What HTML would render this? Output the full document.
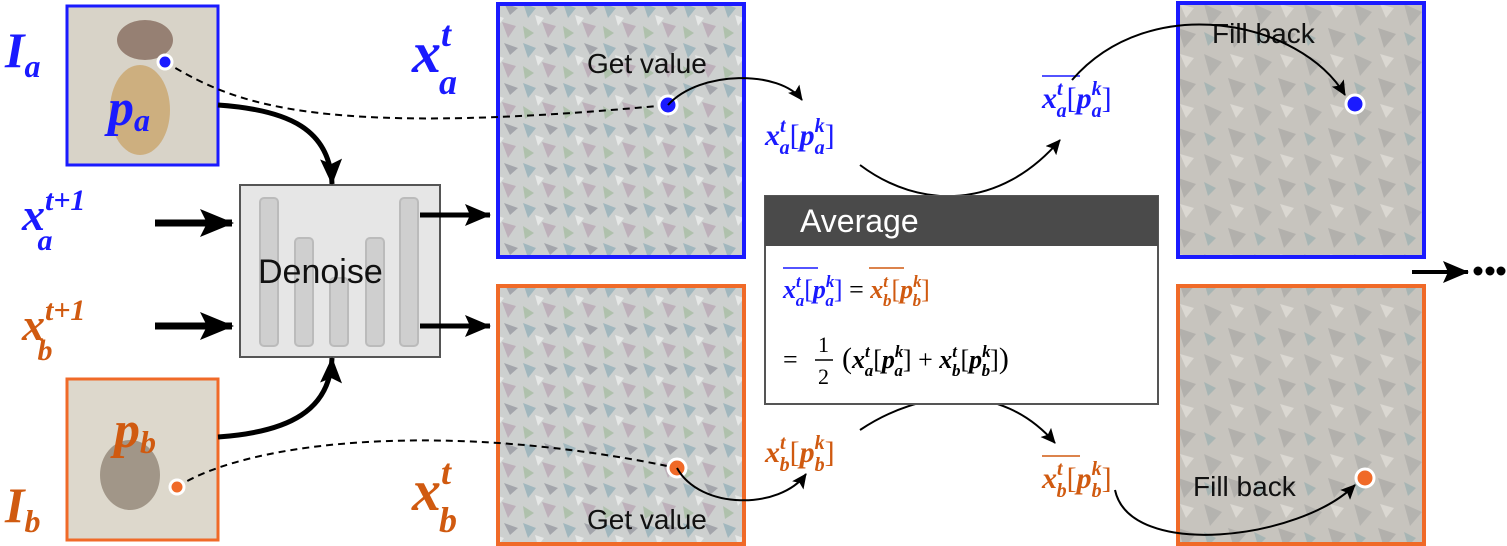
<!DOCTYPE html>
<html><head><meta charset="utf-8"><style>
body{margin:0;background:#fff;}
svg{display:block;font-family:"Liberation Sans",sans-serif;}
.m{font-family:"Liberation Serif",serif;font-style:italic;font-weight:bold;}
.r{font-family:"Liberation Serif",serif;font-style:normal;font-weight:normal;}
</style></head><body>
<svg width="1507" height="546" viewBox="0 0 1507 546">
<defs>
<marker id="ah" markerUnits="userSpaceOnUse" markerWidth="36" markerHeight="32" refX="32" refY="16" orient="auto"><path d="M0,2 L34,16 L0,30 L7,16 Z" fill="#000"/></marker>
<marker id="ahm" markerUnits="userSpaceOnUse" markerWidth="28" markerHeight="24" refX="25" refY="12" orient="auto"><path d="M0,1 L26,12 L0,23 L5,12 Z" fill="#000"/></marker>
<marker id="ahb" markerUnits="userSpaceOnUse" markerWidth="16" markerHeight="14" refX="14" refY="7" orient="auto"><path d="M0,0 L15,7 L0,14 L3,7 Z" fill="#000"/></marker>
<pattern id="noise" width="40" height="40" patternUnits="userSpaceOnUse">
<rect width="40" height="40" fill="#cdd0cf"/>
<path d="M3,3 L16,8 L8,18Z" fill="#6a9aa8" opacity=".45"/><path d="M22,22 L36,26 L28,38Z" fill="#a88aa0" opacity=".45"/>
<path d="M24,3 L38,8 L30,15Z" fill="#556" opacity=".35"/><path d="M3,26 L14,33 L5,39Z" fill="#8ab080" opacity=".45"/>
<path d="M15,15 L24,18 L18,26Z" fill="#fff" opacity=".5"/>
</pattern>
<pattern id="noise2" width="50" height="50" patternUnits="userSpaceOnUse">
<rect width="50" height="50" fill="#c7c4be"/>
<path d="M4,4 L22,12 L10,26Z" fill="#999" opacity=".4"/><path d="M28,28 L46,34 L34,48Z" fill="#8a8a88" opacity=".35"/>
<path d="M30,4 L44,8 L36,18Z" fill="#e8e6e0" opacity=".6"/><path d="M4,32 L16,38 L8,46Z" fill="#6a98a0" opacity=".35"/>
</pattern>
</defs>
<!-- input images -->
<rect x="67" y="6" width="151" height="159" fill="#d8d3c8" stroke="#1a1aff" stroke-width="3"/>
<ellipse cx="140" cy="110" rx="30" ry="45" fill="#c9a060" opacity=".7"/>
<ellipse cx="145" cy="40" rx="28" ry="20" fill="#6a4a3a" opacity=".6"/>
<rect x="67" y="379" width="151" height="161" fill="#ddd8cc" stroke="#f06a28" stroke-width="3"/>
<ellipse cx="130" cy="475" rx="30" ry="35" fill="#7a6a5a" opacity=".6"/>
<text x="5" y="67" class="m" font-size="50" fill="#1a1aff">I<tspan font-size="32" dy="10">a</tspan></text>
<text x="5" y="522" class="m" font-size="50" fill="#d05a10">I<tspan font-size="32" dy="10">b</tspan></text>
<text x="108" y="125" class="m" font-size="52" fill="#1a1aff">p<tspan font-size="32" dy="6">a</tspan></text>
<text x="114" y="447" class="m" font-size="52" fill="#d05a10">p<tspan font-size="32" dy="6">b</tspan></text>
<!-- x^{t+1} -->
<text x="22" y="230" class="m" font-size="46" fill="#1a1aff">x<tspan font-size="30" dy="-20">t+1</tspan><tspan font-size="30" dx="-48" dy="40">a</tspan></text>
<text x="22" y="340" class="m" font-size="46" fill="#d05a10">x<tspan font-size="30" dy="-20">t+1</tspan><tspan font-size="30" dx="-48" dy="40">b</tspan></text>
<line x1="155" y1="223" x2="232" y2="223" stroke="#000" stroke-width="7" marker-end="url(#ah)"/>
<line x1="155" y1="326" x2="232" y2="326" stroke="#000" stroke-width="7" marker-end="url(#ah)"/>
<!-- denoise -->
<rect x="240" y="185" width="200" height="172" fill="#e6e6e6" stroke="#555" stroke-width="2"/>
<g fill="#cfcfcf" stroke="#bbb" stroke-width="2">
<rect x="260" y="198" width="18" height="148" rx="4"/><rect x="295" y="238" width="18" height="108" rx="4"/>
<rect x="330" y="278" width="18" height="68" rx="4"/><rect x="366" y="238" width="18" height="108" rx="4"/>
<rect x="400" y="198" width="18" height="148" rx="4"/></g>
<text x="258" y="283" font-size="34" fill="#111">Denoise</text>
<path d="M218,105 C290,110 330,130 332,184" fill="none" stroke="#000" stroke-width="5" marker-end="url(#ahm)"/>
<path d="M218,437 C290,432 330,410 332,358" fill="none" stroke="#000" stroke-width="5" marker-end="url(#ahm)"/>
<line x1="420" y1="215" x2="490" y2="215" stroke="#000" stroke-width="5" marker-end="url(#ahm)"/>
<line x1="420" y1="326" x2="490" y2="326" stroke="#000" stroke-width="5" marker-end="url(#ahm)"/>
<!-- noisy latents -->
<rect x="498" y="4" width="246" height="253" fill="url(#noise)" stroke="#1a1aff" stroke-width="4"/>
<rect x="498" y="286" width="246" height="258" fill="url(#noise)" stroke="#f06a28" stroke-width="4"/>
<text x="412" y="72" class="m" font-size="58" fill="#1a1aff">x<tspan font-size="36" dy="-26">t</tspan><tspan font-size="36" dx="-12" dy="48">a</tspan></text>
<text x="412" y="510" class="m" font-size="58" fill="#d05a10">x<tspan font-size="36" dy="-26">t</tspan><tspan font-size="36" dx="-12" dy="48">b</tspan></text>
<text x="587" y="73" font-size="28" fill="#111">Get value</text>
<text x="587" y="529" font-size="28" fill="#111">Get value</text>
<path d="M165,62 C230,100 300,140 668,105" fill="none" stroke="#000" stroke-width="2" stroke-dasharray="7,5"/>
<path d="M177,487 C250,440 450,420 677,468" fill="none" stroke="#000" stroke-width="2" stroke-dasharray="7,5"/>
<circle cx="165" cy="62" r="7" fill="#1a1aff" stroke="#fff" stroke-width="3"/>
<circle cx="177" cy="487" r="7" fill="#f06a28" stroke="#fff" stroke-width="3"/>
<circle cx="668" cy="105" r="9" fill="#1a1aff" stroke="#fff" stroke-width="3"/>
<circle cx="677" cy="468" r="9" fill="#f06a28" stroke="#fff" stroke-width="3"/>
<path d="M668,105 C700,70 780,70 802,100" fill="none" stroke="#000" stroke-width="2" marker-end="url(#ahb)"/>
<path d="M677,468 C700,510 780,510 806,474" fill="none" stroke="#000" stroke-width="2" marker-end="url(#ahb)"/>
<text x="765" y="145" class="m" font-size="30" fill="#1a1aff">x<tspan font-size="20" dy="-13">t</tspan><tspan font-size="20" dx="-6" dy="22">a</tspan><tspan class="r" dy="-9">[</tspan>p<tspan font-size="20" dy="-13">k</tspan><tspan font-size="20" dx="-10" dy="22">a</tspan><tspan class="r" dy="-9">]</tspan></text>
<text x="765" y="462" class="m" font-size="30" fill="#d05a10">x<tspan font-size="20" dy="-13">t</tspan><tspan font-size="20" dx="-6" dy="22">b</tspan><tspan class="r" dy="-9">[</tspan>p<tspan font-size="20" dy="-13">k</tspan><tspan font-size="20" dx="-10" dy="22">b</tspan><tspan class="r" dy="-9">]</tspan></text>
<path d="M860,165 C920,210 1000,210 1060,140" fill="none" stroke="#000" stroke-width="2" marker-end="url(#ahb)"/>
<path d="M860,430 C920,390 1000,380 1055,443" fill="none" stroke="#000" stroke-width="2" marker-end="url(#ahb)"/>
<!-- average -->
<rect x="765" y="196" width="393" height="208" fill="#fff" stroke="#555" stroke-width="2"/>
<rect x="765" y="196" width="393" height="50" fill="#4a4a4a"/>
<text x="800" y="232" font-size="32" fill="#fff">Average</text>
<g>
<line x1="783" y1="268" x2="818" y2="268" stroke="#1a1aff" stroke-width="1.5"/>
<line x1="869" y1="268" x2="904" y2="268" stroke="#d05a10" stroke-width="1.5"/>
<text x="783" y="298" class="m" font-size="26" fill="#1a1aff">x<tspan font-size="17" dy="-11">t</tspan><tspan font-size="17" dx="-5" dy="19">a</tspan><tspan class="r" dy="-8">[</tspan>p<tspan font-size="17" dy="-11">k</tspan><tspan font-size="17" dx="-9" dy="19">a</tspan><tspan class="r" dy="-8">]</tspan><tspan class="r" fill="#000"> = </tspan><tspan fill="#d05a10">x<tspan font-size="17" dy="-11">t</tspan><tspan font-size="17" dx="-5" dy="19">b</tspan><tspan class="r" dy="-8">[</tspan>p<tspan font-size="17" dy="-11">k</tspan><tspan font-size="17" dx="-9" dy="19">b</tspan><tspan class="r" dy="-8">]</tspan></tspan></text>
</g>
<g>
<text x="783" y="368" class="r" font-size="26" fill="#000">=</text>
<text x="818" y="352" class="r" font-size="22" fill="#000">1</text>
<line x1="815" y1="360" x2="833" y2="360" stroke="#000" stroke-width="1.5"/>
<text x="818" y="384" class="r" font-size="22" fill="#000">2</text>
<text x="842" y="368" class="m" font-size="26" fill="#000"><tspan class="r" font-size="30">(</tspan>x<tspan font-size="17" dy="-11">t</tspan><tspan font-size="17" dx="-5" dy="19">a</tspan><tspan class="r" dy="-8">[</tspan>p<tspan font-size="17" dy="-11">k</tspan><tspan font-size="17" dx="-9" dy="19">a</tspan><tspan class="r" dy="-8">] + </tspan>x<tspan font-size="17" dy="-11">t</tspan><tspan font-size="17" dx="-5" dy="19">b</tspan><tspan class="r" dy="-8">[</tspan>p<tspan font-size="17" dy="-11">k</tspan><tspan font-size="17" dx="-9" dy="19">b</tspan><tspan class="r" dy="-8">]</tspan><tspan class="r" font-size="30">)</tspan></text>
</g>
<line x1="1042" y1="76" x2="1080" y2="76" stroke="#1a1aff" stroke-width="1.5"/>
<text x="1042" y="108" class="m" font-size="30" fill="#1a1aff">x<tspan font-size="20" dy="-13">t</tspan><tspan font-size="20" dx="-6" dy="22">a</tspan><tspan class="r" dy="-9">[</tspan>p<tspan font-size="20" dy="-13">k</tspan><tspan font-size="20" dx="-10" dy="22">a</tspan><tspan class="r" dy="-9">]</tspan></text>
<line x1="1042" y1="456" x2="1080" y2="456" stroke="#d05a10" stroke-width="1.5"/>
<text x="1042" y="488" class="m" font-size="30" fill="#d05a10">x<tspan font-size="20" dy="-13">t</tspan><tspan font-size="20" dx="-6" dy="22">b</tspan><tspan class="r" dy="-9">[</tspan>p<tspan font-size="20" dy="-13">k</tspan><tspan font-size="20" dx="-10" dy="22">b</tspan><tspan class="r" dy="-9">]</tspan></text>
<!-- outputs -->
<rect x="1178" y="3" width="246" height="254" fill="url(#noise2)" stroke="#1a1aff" stroke-width="4"/>
<rect x="1178" y="286" width="246" height="258" fill="url(#noise2)" stroke="#f06a28" stroke-width="4"/>
<text x="1212" y="43" font-size="28" fill="#111">Fill back</text>
<text x="1193" y="496" font-size="28" fill="#111">Fill back</text>
<path d="M1072,80 C1150,-10 1300,20 1345,95" fill="none" stroke="#000" stroke-width="2" marker-end="url(#ahb)"/>
<path d="M1115,490 C1130,560 1300,540 1355,485" fill="none" stroke="#000" stroke-width="2" marker-end="url(#ahb)"/>
<circle cx="1355" cy="104" r="9" fill="#1a1aff" stroke="#fff" stroke-width="3"/>
<circle cx="1365" cy="478" r="9" fill="#f06a28" stroke="#fff" stroke-width="3"/>
<line x1="1412" y1="272" x2="1468" y2="272" stroke="#000" stroke-width="4" marker-end="url(#ahm)"/>
<g fill="#000">
<circle cx="1478" cy="271" r="4.5"/><circle cx="1490" cy="271" r="4.5"/><circle cx="1501" cy="271" r="4.5"/></g>
</svg>
</body></html>
